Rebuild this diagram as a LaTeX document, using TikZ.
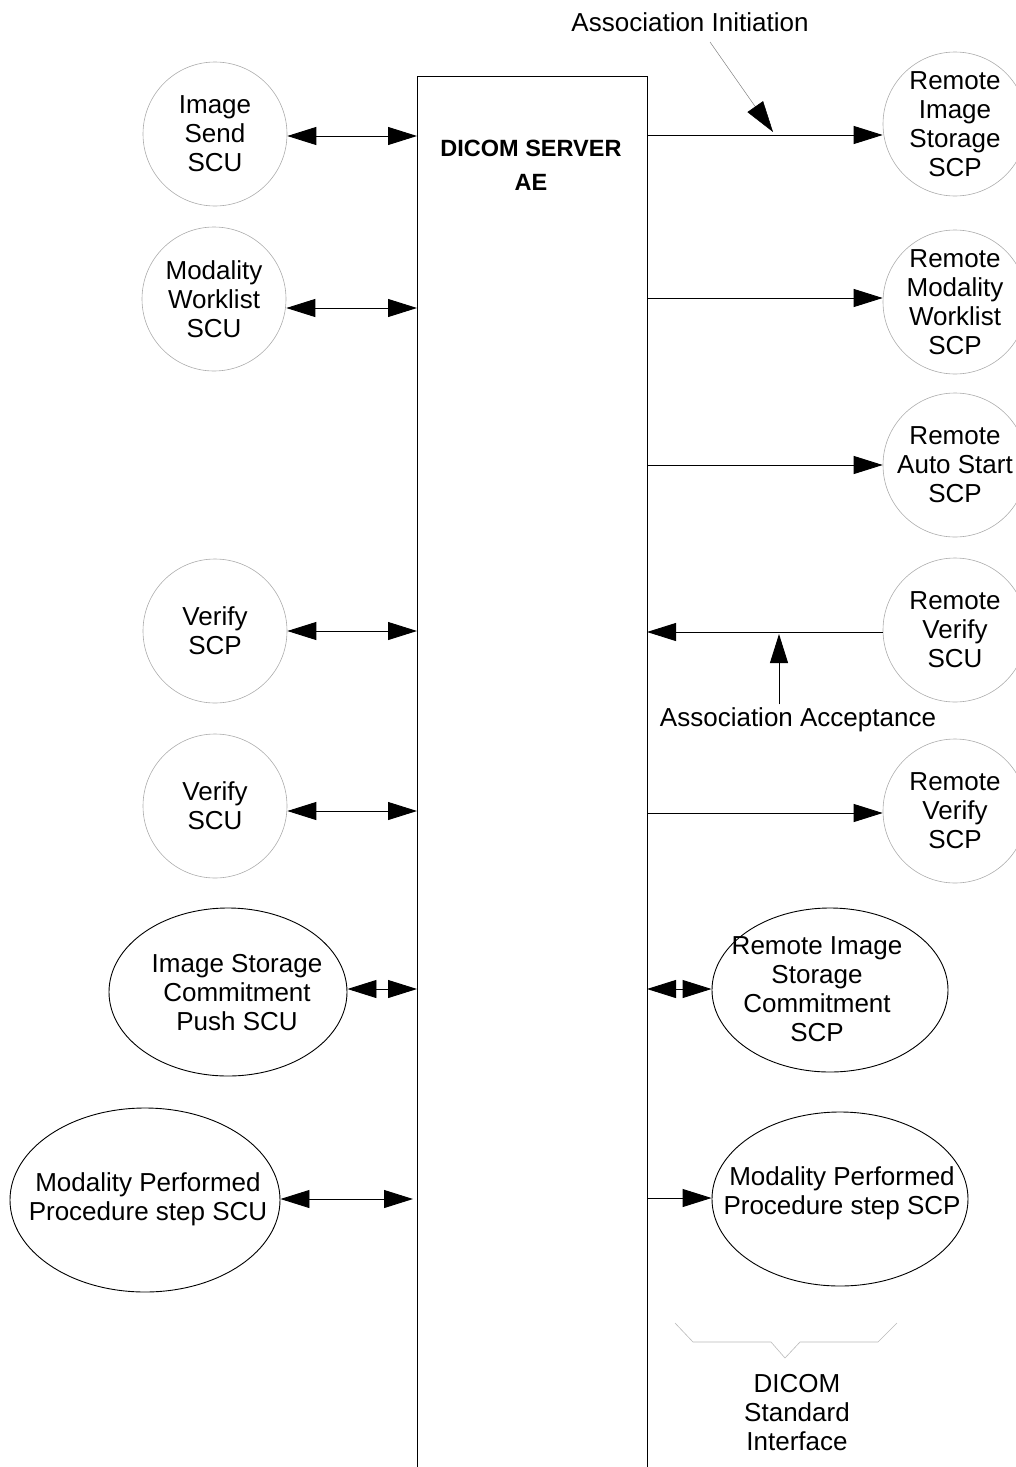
\documentclass[tikz,border=0pt]{standalone}
\usepackage{fontspec}
\setmainfont{Liberation Sans}
\usetikzlibrary{arrows.meta,shapes.geometric}
\begin{document}
\begin{tikzpicture}[x=1pt,y=-1pt,
  txt/.style={font=\fontsize{26}{29}\selectfont, align=center},
  circ/.style={circle, draw=gray!65, line width=0.6pt, minimum size=144pt, inner sep=0pt, txt},
  ell/.style={ellipse, draw=black, line width=0.9pt, inner sep=0pt},
  conn/.style={line width=0.9pt},
  biarrow/.style={conn, {Triangle[length=29pt,width=18pt]}-{Triangle[length=29pt,width=18pt]}},
  uniarrow/.style={conn, -{Triangle[length=29pt,width=18pt]}},
  ]
\useasboundingbox (0,0) rectangle (1016,1467);

% central application entity box (open at the bottom)
\coordinate (bxbl) at (417,1467);
\coordinate (bxtl) at (417,76);
\coordinate (bxtr) at (647,76);
\coordinate (bxbr) at (647,1467);
\draw[conn] (bxbl) -- (bxtl) -- (bxtr) -- (bxbr);
\node[font=\bfseries\fontsize{23.5}{34}\selectfont, align=center] (ae) at (531,165) {DICOM SERVER\\AE};

% left side
\node[circ] (isend) at (215,134) {Image\\Send\\SCU};
\node[circ] (mwl) at (214,299) {Modality\\Worklist\\SCU};
\node[circ] (vscp) at (215,631) {Verify\\SCP};
\node[circ] (vscu) at (215,806) {Verify\\SCU};
\node[ell, minimum width=238pt, minimum height=168pt,
  label={[txt, xshift=9pt, yshift=-1pt]center:Image Storage\\Commitment\\Push SCU}] (iscu) at (228,992) {};
\node[ell, minimum width=270pt, minimum height=184pt,
  label={[txt, xshift=3pt, yshift=1pt]center:Modality Performed\\Procedure step SCU}] (mppsu) at (145,1200) {};

% right side
\node[circ] (ris) at (955,124) {Remote\\Image\\Storage\\SCP};
\node[circ] (rmw) at (955,302) {Remote\\Modality\\Worklist\\SCP};
\node[circ] (ras) at (955,465) {Remote\\Auto Start\\SCP};
\node[circ] (rvu) at (955,630) {Remote\\Verify\\SCU};
\node[circ] (rvp) at (955,811) {Remote\\Verify\\SCP};
\node[ell, minimum width=236pt, minimum height=164pt,
  label={[txt, xshift=-13pt, yshift=1pt]center:Remote Image\\Storage\\Commitment\\SCP}] (risc) at (830,990) {};
\node[ell, minimum width=256pt, minimum height=174pt,
  label={[txt, xshift=2pt, yshift=6pt]center:Modality Performed\\Procedure step SCP}] (mppsp) at (840,1199) {};

% connection points on the box
\coordinate (L1) at (417,136);
\coordinate (L2) at (417,308);
\coordinate (L3) at (417,631);
\coordinate (L4) at (417,811);
\coordinate (L5) at (417,989);
\coordinate (L6) at (413,1199);
\coordinate (R1) at (647,135);
\coordinate (R2) at (647,298);
\coordinate (R3) at (647,465);
\coordinate (R4) at (647,632);
\coordinate (R5) at (647,813);
\coordinate (R6) at (647,989);
\coordinate (R7) at (647,1198);

% left connectors
\draw[biarrow] (isend.east |- L1) -- (L1);
\draw[biarrow] (mwl.east |- L2) -- (L2);
\draw[biarrow] (vscp.east |- L3) -- (L3);
\draw[biarrow] (vscu.east |- L4) -- (L4);
\draw[biarrow] (iscu.east |- L5) -- (L5);
\draw[biarrow] (mppsu.east |- L6) -- (L6);

% right connectors
\draw[uniarrow] (R1) -- (ris.west |- R1);
\draw[uniarrow] (R2) -- (rmw.west |- R2);
\draw[uniarrow] (R3) -- (ras.west |- R3);
\draw[uniarrow] (rvu.west |- R4) -- (R4);
\draw[uniarrow] (R5) -- (rvp.west |- R5);
\draw[biarrow] (R6) -- (risc.west |- R6);
\draw[uniarrow] (R7) -- (mppsp.west |- R7);

% association initiation
\node[txt] (ai) at (690,22) {Association Initiation};
\coordinate (aitail) at (710,42);
\coordinate (aitip) at (773,132);
\draw[draw=gray, line width=0.5pt, -{Triangle[length=31pt,width=19pt,color=black]}] (aitail) -- (aitip);

% association acceptance
\node[txt] (aa) at (798,720) {Association Acceptance};
\coordinate (aatip) at (779,634);
\draw[uniarrow] (aatip |- aa.north) -- (aatip);

% DICOM standard interface brace
\draw[gray!55, line width=0.6pt] (675,1323) -- (693,1342) -- (771,1342) -- (785,1358) -- (800,1342) -- (878,1342) -- (897,1323);
\node[txt] (dsi) at (797,1413) {DICOM\\Standard\\Interface};
\end{tikzpicture}
\end{document}
